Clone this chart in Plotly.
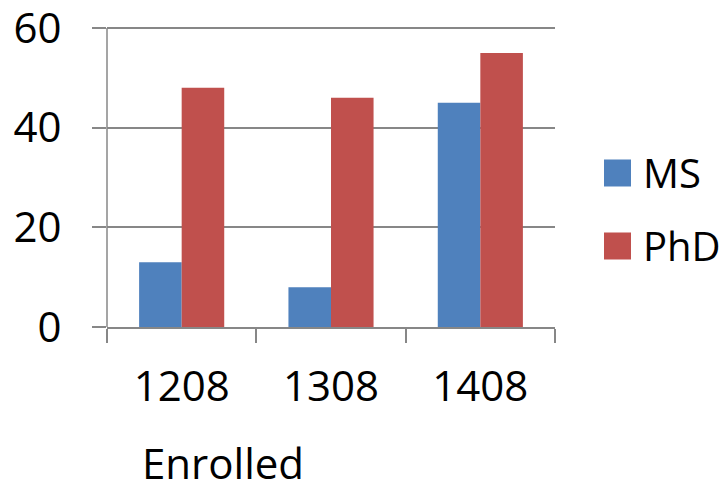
import plotly.graph_objects as go

# data
categories = ["1208", "1308", "1408"]
ms_values = [13, 8, 45]
phd_values = [48, 46, 55]
series_names = ["MS", "PhD"]
series_colors = ["#4F81BD", "#C0504D"]
y_ticks = [0, 20, 40, 60]

W, H = 723, 481
L, R, B = 107, 555, 327  # plot area in pixels
Y_TOP = 61  # a bit of headroom so the 60 gridline is drawn
T = B - Y_TOP * (B - 28) / 60


def px_x(px):
    return (px - L) / (R - L)


def px_y(py):
    return (B - py) / (B - T)


FONT = "Open Sans, Liberation Sans, sans-serif"
GRID = "#878787"

fig = go.Figure()
for name, vals, col in zip(series_names, [ms_values, phd_values], series_colors):
    fig.add_trace(go.Bar(
        x=categories, y=vals, name=name,
        marker=dict(color=col, line=dict(width=0)),
        showlegend=False,
    ))

# legend drawn by hand so the swatches can be large like the original
legend_y = [173, 246]
shapes = []
annotations = []
for name, col, cy in zip(series_names, series_colors, legend_y):
    shapes.append(dict(
        type="rect", xref="paper", yref="paper",
        x0=px_x(604), x1=px_x(631), y0=px_y(cy + 13.5), y1=px_y(cy - 13.5),
        fillcolor=col, line=dict(width=0),
    ))
    annotations.append(dict(
        text=name, xref="paper", yref="paper",
        x=px_x(641), y=px_y(cy), xanchor="left", yanchor="middle",
        showarrow=False, font=dict(size=40, color="black", family=FONT),
    ))

annotations.append(dict(
    text="Enrolled", xref="paper", yref="paper",
    x=px_x(223), y=px_y(462), xanchor="center", yanchor="middle",
    showarrow=False, font=dict(size=42, color="black", family=FONT),
))

fig.update_layout(
    width=W, height=H,
    margin=dict(l=L, r=W - R, t=T, b=H - B, pad=0, autoexpand=False),
    paper_bgcolor="white", plot_bgcolor="white",
    barmode="group", bargap=0.43, bargroupgap=0,
    font=dict(family=FONT, size=42, color="black"),
    shapes=shapes, annotations=annotations,
    showlegend=False,
)
fig.update_xaxes(
    type="category", range=[-0.5, 2.5], automargin=False,
    showline=True, linecolor=GRID, linewidth=1.5,
    ticks="outside", tickson="boundaries", ticklen=14, tickcolor=GRID, tickwidth=1.5,
    showgrid=False, ticklabelstandoff=22,
    tickfont=dict(size=42, family=FONT),
)
fig.update_yaxes(
    range=[0, Y_TOP], tickvals=y_ticks, automargin=False,
    showline=False,
    ticks="outside", ticklen=14, tickcolor=GRID, tickwidth=1.5,
    showgrid=True, gridcolor=GRID, gridwidth=1.5,
    zeroline=False, ticklabelstandoff=22, ticklabeloverflow="allow",
    tickfont=dict(size=42, family=FONT),
)
# y axis line only up to the 60 gridline, as in the original
fig.add_shape(type="line", xref="paper", yref="y", x0=0, x1=0, y0=0, y1=60,
              line=dict(color=GRID, width=1.5))

fig.write_html("out.html", config={"displayModeBar": False},
               post_script="document.body.style.margin='0';")
